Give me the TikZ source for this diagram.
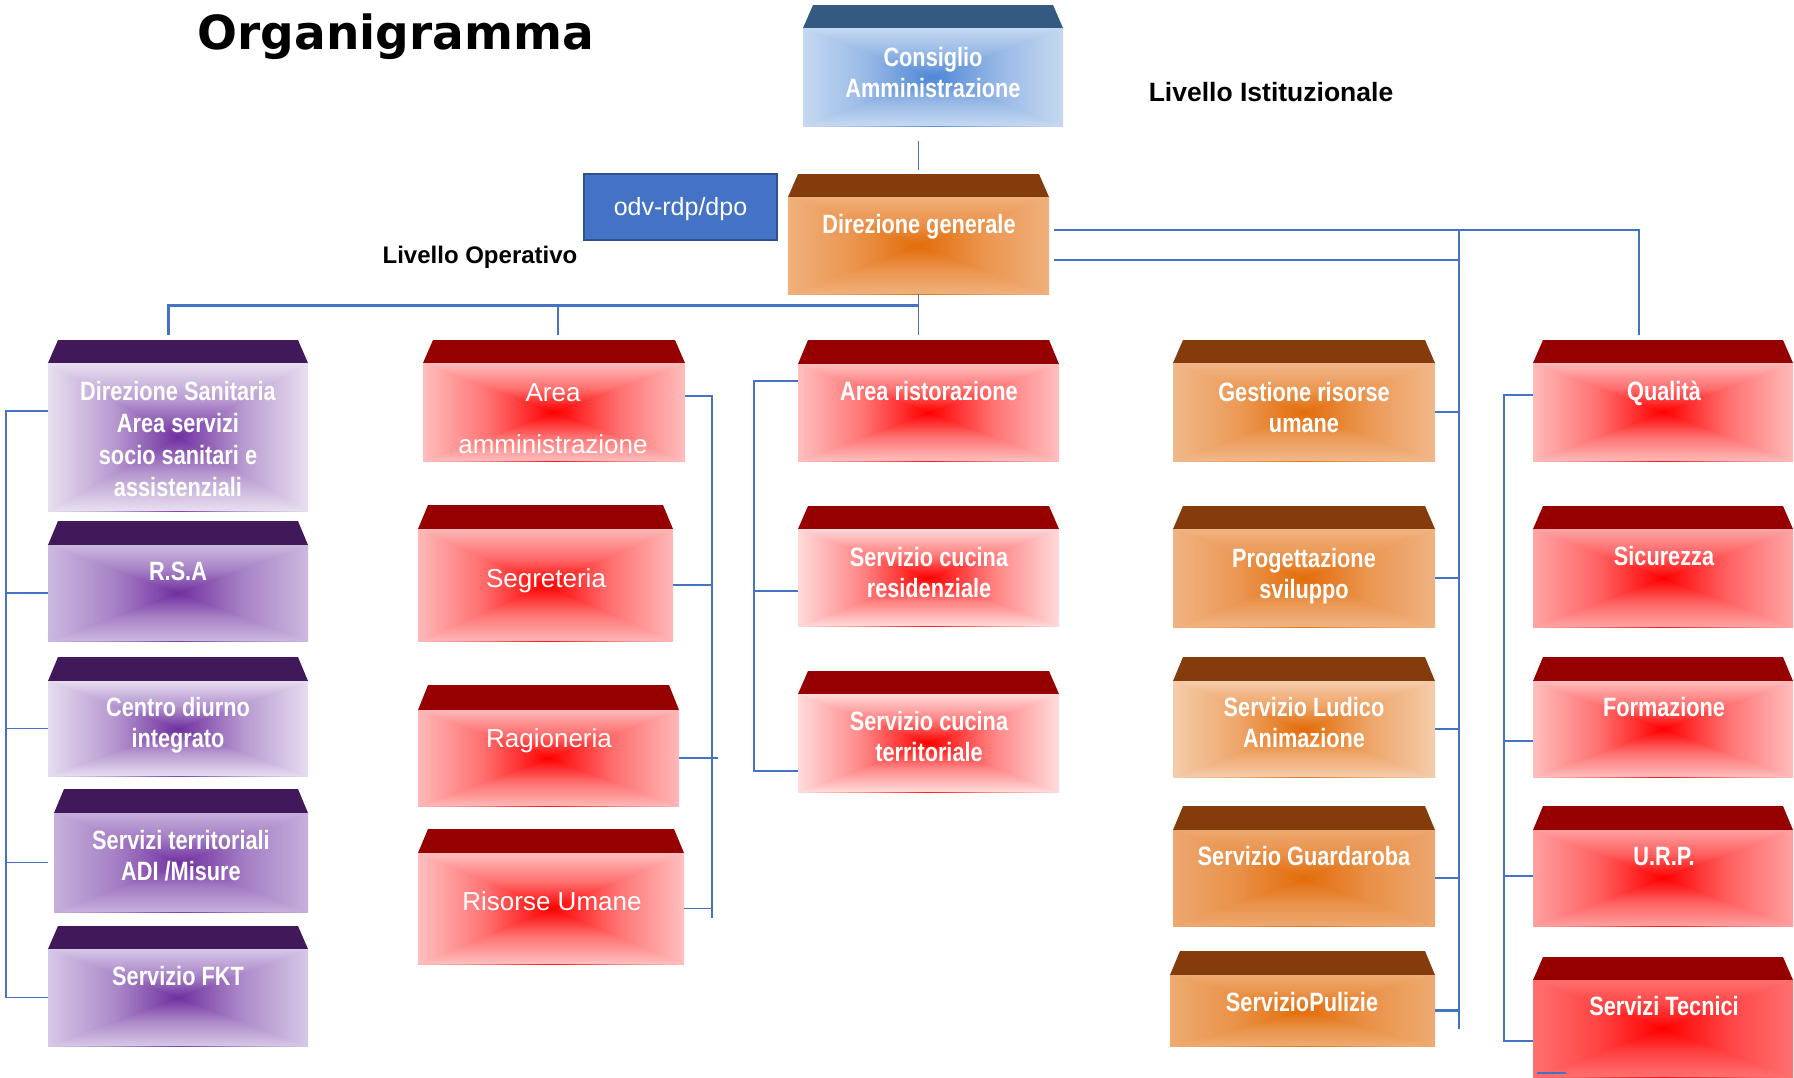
\documentclass[tikz,border=0pt]{standalone}
\usepackage{fontspec}
\setmainfont{Liberation Sans}
\newfontfamily\condfont{Liberation Sans}[FakeStretch=0.82]
\newfontfamily\orgfont{DejaVu Sans}
\usetikzlibrary{calc}
\definecolor{lineblue}{HTML}{4472C4}
\definecolor{odvblue}{HTML}{4472C4}
\definecolor{odvborder}{HTML}{2F528F}
\colorlet{lidc}{black}\colorlet{edgec}{white}\colorlet{centc}{red}\colorlet{midc}{red}
\pgfdeclareverticalshading[edgec,midc,centc]{vx}{100bp}{color(0bp)=(edgec); color(25bp)=(edgec); color(37.5bp)=(midc); color(50bp)=(centc); color(62.5bp)=(midc); color(75bp)=(edgec); color(100bp)=(edgec)}
\pgfdeclarehorizontalshading[edgec,midc,centc]{hx}{100bp}{color(0bp)=(edgec); color(25bp)=(edgec); color(37.5bp)=(midc); color(50bp)=(centc); color(62.5bp)=(midc); color(75bp)=(edgec); color(100bp)=(edgec)}
\newcommand\setc[3]{\definecolor{lidc}{HTML}{#1}\definecolor{edgec}{HTML}{#2}\definecolor{centc}{HTML}{#3}\colorlet{midc}{centc!40!edgec}}
\newcommand\sst{\rule[-0.3em]{0pt}{1em}}
% #1 name, #2 x1, #3 y lid top, #4 y face top, #5 x2, #6 y bottom
\newcommand\orgbox[6]{%
  \fill[lidc] (#2,#4) -- ({#2+10},#3) -- ({#5-10},#3) -- (#5,#4) -- cycle;
  \shade[shading=hx] (#2,#4) rectangle (#5,#6);
  \begin{scope}
    \clip (#2,#4) -- (#5,#4) -- ({(#2+#5)/2},{(#4+#6)/2}) -- (#5,#6) -- (#2,#6) -- ({(#2+#5)/2},{(#4+#6)/2}) -- cycle;
    \shade[shading=vx] (#2,#4) rectangle (#5,#6);
  \end{scope}
  \node[inner sep=0pt, minimum width={(#5-#2)*1pt}, minimum height={(#6-#4)*1pt}] (#1) at ({(#2+#5)/2},{(#4+#6)/2}) {};
}
\begin{document}
\begin{tikzpicture}[x=1pt,y=-1pt,
  conn/.style={draw=lineblue, line width=1.4pt},
  bt/.style={text=white, font=\condfont\bfseries\fontsize{26.5}{31}\selectfont, align=center, inner sep=0pt, yshift=-3pt},
  rt/.style={text=white, font=\fontsize{26}{52}\selectfont, align=center, inner sep=0pt, yshift=-4pt},
  lbl/.style={text=black, inner sep=0pt, anchor=base}]
\useasboundingbox (0,0) rectangle (1794,1077);
\fill[white] (0,0) rectangle (1794,1077);

% titles
\node[lbl, font=\orgfont\bfseries\fontsize{47}{56}\selectfont] (title) at (396,49) {Organigramma};
\node[lbl, font=\bfseries\fontsize{26.5}{30}\selectfont] (istit) at (1271,101.5) {Livello Istituzionale};
\node[lbl, font=\bfseries\fontsize{24}{28}\selectfont] (oper) at (480,263) {Livello Operativo};

% top
\setc{345A81}{C6D9F1}{4F86D6}
\orgbox{cons}{803}{5}{28}{1063}{126}
\node[bt] (cons-t) at (933,73) {\sst Consiglio\\Amministrazione\sst};
\setc{843C0C}{F0B07C}{E36C09}
\orgbox{dg}{788}{174}{197}{1049}{294}
\node[bt] (dg-t) at (919,225) {\sst Direzione generale\sst};
\node[fill=odvblue, draw=odvborder, line width=2pt, minimum width=193pt, minimum height=66pt,
      text=white, font=\fontsize{25}{30}\selectfont, inner sep=0pt, text depth=0pt] (odv) at (680.5,207) {};
\node[text=white, font=\fontsize{25}{30}\selectfont, inner sep=0pt, yshift=-3pt] (odv-t) at (odv.center) {\sst odv-rdp/dpo\sst};

% column 1
\setc{41195B}{E8E0F0}{7030A0}
\orgbox{c1a}{48}{340}{363}{308}{511}
\node[bt, font=\condfont\bfseries\fontsize{26.5}{32}\selectfont] (c1a-t) at (178,440) {\sst Direzione Sanitaria\\Area servizi\\socio sanitari e\\assistenziali\sst};
\setc{41195B}{CCB9DF}{7030A0}
\orgbox{c1b}{48}{521}{545}{308}{641}
\node[bt] (c1b-t) at (178,572) {\sst R.S.A\sst};
\setc{41195B}{E6DDF0}{7030A0}
\orgbox{c1c}{48}{657}{681}{308}{776}
\node[bt] (c1c-t) at (178,723) {\sst Centro diurno\\integrato\sst};
\setc{41195B}{C6B0DC}{7030A0}
\orgbox{c1d}{54}{789}{813}{308}{912}
\node[bt] (c1d-t) at (181,856) {\sst Servizi territoriali\\ADI /Misure\sst};
\setc{41195B}{D6C8E6}{7030A0}
\orgbox{c1e}{48}{926}{949}{308}{1046}
\node[bt] (c1e-t) at (178,977) {\sst Servizio FKT\sst};

% column 2
\setc{970000}{FFBDBD}{FF0000}
\orgbox{c2a}{423}{340}{363}{685}{461}
\node[rt] (c2a-t) at (553,418) {\sst Area\\amministrazione\sst};
\setc{970000}{FFB8B8}{FF0000}
\orgbox{c2b}{418}{505}{529}{673}{641}
\node[rt] (c2b-t) at (546,578) {\sst Segreteria\sst};
\orgbox{c2c}{418}{685}{710}{679}{806}
\node[rt] (c2c-t) at (549,738) {\sst Ragioneria\sst};
\setc{970000}{FFBFBF}{FF0000}
\orgbox{c2d}{418}{829}{853}{684}{964}
\node[rt] (c2d-t) at (552,901) {\sst Risorse Umane\sst};

% column 3
\setc{970000}{FFBFBF}{FF0000}
\orgbox{c3a}{798}{340}{364}{1059}{461}
\node[bt] (c3a-t) at (929,392) {\sst Area ristorazione\sst};
\setc{970000}{FFDADA}{FF0000}
\orgbox{c3b}{798}{506}{529}{1059}{626}
\node[bt] (c3b-t) at (929,573.5) {\sst Servizio cucina\\residenziale\sst};
\setc{970000}{FFDCDC}{FF0000}
\orgbox{c3c}{798}{671}{694}{1059}{792}
\node[bt] (c3c-t) at (929,737.5) {\sst Servizio cucina\\territoriale\sst};

% column 4
\setc{843C0C}{F1B88A}{E36C09}
\orgbox{c4a}{1173}{340}{363}{1435}{461}
\node[bt] (c4a-t) at (1304,408) {\sst Gestione risorse\\umane\sst};
\setc{843C0C}{F0B383}{E36C09}
\orgbox{c4b}{1173}{506}{529}{1435}{627}
\node[bt] (c4b-t) at (1304,574) {\sst Progettazione\\sviluppo\sst};
\setc{843C0C}{F5CCAA}{E36C09}
\orgbox{c4c}{1173}{657}{681}{1435}{777}
\node[bt] (c4c-t) at (1304,723) {\sst Servizio Ludico\\Animazione\sst};
\setc{843C0C}{EDA870}{E36C09}
\orgbox{c4d}{1173}{806}{830}{1435}{926}
\node[bt] (c4d-t) at (1304,857) {\sst Servizio Guardaroba\sst};
\setc{843C0C}{EEAB72}{E36C09}
\orgbox{c4e}{1170}{951}{975}{1435}{1046}
\node[bt] (c4e-t) at (1302,1003) {\sst ServizioPulizie\sst};

% column 5
\setc{970000}{FFBABA}{FF0000}
\orgbox{c5a}{1533}{340}{363}{1793}{461}
\node[bt] (c5a-t) at (1664,392) {\sst Qualità\sst};
\setc{970000}{FFA5A5}{FF0000}
\orgbox{c5b}{1533}{506}{529}{1793}{627}
\node[bt] (c5b-t) at (1664,557) {\sst Sicurezza\sst};
\setc{970000}{FFBDBD}{FF0000}
\orgbox{c5c}{1533}{657}{681}{1793}{777}
\node[bt] (c5c-t) at (1664,708) {\sst Formazione\sst};
\setc{970000}{FFA0A0}{FF0000}
\orgbox{c5d}{1533}{806}{830}{1793}{926}
\node[bt] (c5d-t) at (1664,857) {\sst U.R.P.\sst};
\setc{970000}{FF7070}{FF0000}
\orgbox{c5e}{1533}{957}{980}{1793}{1077}
\node[bt] (c5e-t) at (1664,1007) {\sst Servizi Tecnici\sst};

% ---- connectors ----
\draw[conn, shorten <=15pt, shorten >=27pt] (cons.south -| dg.north) -- (dg.north);
\coordinate (h1) at (168,305);
\coordinate (t1) at (168,335);
\coordinate (t2) at (558,335);
\coordinate (t3) at (919,335);
\draw[conn, line width=3pt] (t1) -- (h1) -- (h1 -| t3);
\draw[conn] (dg.south) -- (dg.south |- t3);
\draw[conn] (t2 |- h1) -- (t2);

% right branches from Direzione generale
\coordinate (s4t) at (1459,230);
\coordinate (s4b) at (1459,1029);
\coordinate (j5) at (1639,335);
\draw[conn] ([yshift=15.5pt,xshift=5pt]dg.east) -| (j5);
\draw[conn] ([yshift=-14.5pt,xshift=5pt]dg.east) -- ([yshift=-14.5pt]dg.east -| s4t);
\draw[conn] (s4t) -- (s4b);
\foreach \b in {c4a,c4b,c4c,c4d} \draw[conn] (\b.east) -- (\b.east -| s4t);
\draw[conn, line width=2.2pt] (c4e.east) -- (c4e.east -| s4t);

% column 1 bracket
\coordinate (s1t) at (6,411);
\draw[conn] (s1t -| c1a.west) -- (s1t) -- (s1t |- c1e.west) -- (c1e.west);
\draw[conn] (c1b.west) -- (c1b.west -| s1t);
\draw[conn] (c1c.west) -- (c1c.west -| s1t);
\draw[conn] ([xshift=-6pt]c1d.west) -- (c1d.west -| s1t);

% column 2 bracket
\coordinate (s2t) at (712,396);
\coordinate (s2b) at (712,918);
\draw[conn] (s2t -| c2a.east) -- (s2t) -- (s2b);
\draw[conn] (c2b.east) -- (c2b.east -| s2t);
\draw[conn] (c2c.east) -- ([xshift=6pt]c2c.east -| s2t);
\draw[conn] (c2d.east) -- (c2d.east -| s2t);

% column 3 bracket
\coordinate (s3t) at (754,381);
\coordinate (s3m) at (754,591);
\coordinate (s3b) at (754,771);
\draw[conn] (s3t -| c3a.west) -- (s3t) -- (s3b) -- (s3b -| c3c.west);
\draw[conn] (s3m) -- (s3m -| c3b.west);

% column 5 bracket
\coordinate (s5t) at (1504,395);
\coordinate (s5c) at (1504,741);
\coordinate (s5d) at (1504,876);
\coordinate (s5b) at (1504,1041);
\draw[conn] (s5t -| c5a.west) -- (s5t) -- (s5b) -- (s5b -| c5e.west);
\draw[conn] (s5c) -- (s5c -| c5c.west);
\draw[conn] (s5d) -- (s5d -| c5d.west);
\coordinate (u1) at (1537,1073);
\coordinate (u2) at (1566,1073);
\draw[conn] (u1) -- (u2);
\end{tikzpicture}
\end{document}
